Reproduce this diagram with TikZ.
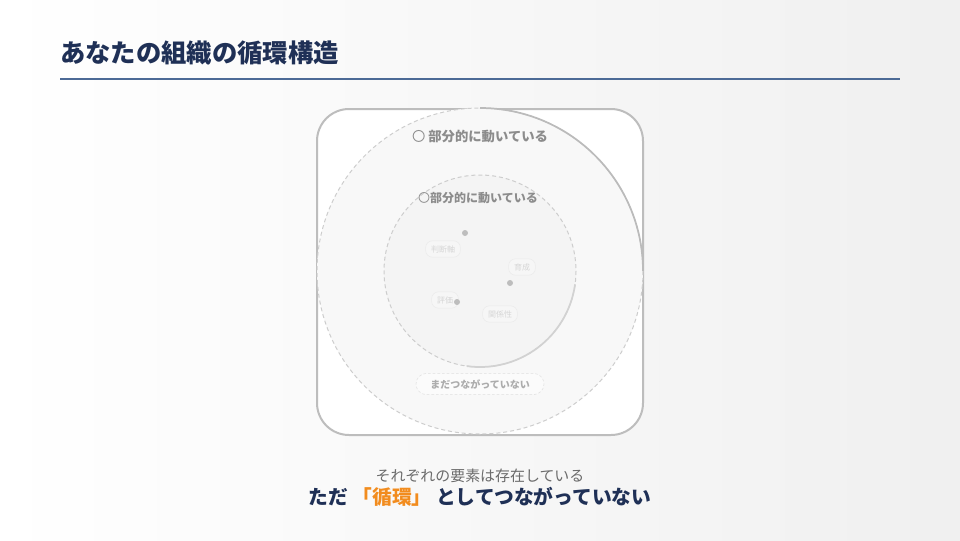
\documentclass[tikz,border=0pt]{standalone}
\usepackage{fontspec}
\setmainfont{Noto Sans CJK JP}
\definecolor{navy}{HTML}{1F3056}
\definecolor{rulec}{HTML}{4C6A96}
\definecolor{framec}{HTML}{BDBDBD}
\definecolor{ofill}{HTML}{F8F8F8}
\definecolor{ifill}{HTML}{F4F4F4}
\definecolor{dashc}{HTML}{CDCDCD}
\definecolor{arcc}{HTML}{BBBBBB}
\definecolor{iarcc}{HTML}{D2D2D2}
\definecolor{labc}{HTML}{8C8C8C}
\definecolor{dotc}{HTML}{BDBDBD}
\definecolor{pilltext}{HTML}{D6D6D6}
\definecolor{pilldraw}{HTML}{EBEBEB}
\definecolor{pillfill}{HTML}{F6F6F6}
\definecolor{subc}{HTML}{6B6B6B}
\definecolor{orangec}{HTML}{F28C1E}
\tikzset{
  dotst/.style={circle, fill=dotc, inner sep=0pt, minimum size=4.5pt},
  pill/.style={rounded corners=5pt, draw=pilldraw, fill=pillfill, text=pilltext,
    font=\fontsize{6}{6}\selectfont, inner xsep=4pt, minimum height=10.5pt},
  ringlabel/.style={text=labc, font=\bfseries},
}
\begin{document}
\begin{tikzpicture}[x=0.75pt,y=-0.75pt]
\useasboundingbox (0,0) rectangle (960,540);
\shade[left color=white, middle color=white, right color=gray!12] (0,0) rectangle (960,540);
% title
\node[anchor=west, text=navy, font=\fontsize{19}{19}\selectfont\bfseries, inner sep=0pt] (title) at (60,53) {あなたの組織の循環構造};
\draw[rulec, line width=0.9pt] (60,79) -- (900,79);
% frame
\draw[framec, fill=white, line width=1.5pt, rounded corners=24pt] (317,109) rectangle (643,435);
% outer circle
\coordinate (co) at (480,271);
\fill[ofill] (co) circle[radius=163];
\draw[dashc, line width=0.75pt, dash pattern=on 3pt off 2.2pt] (co) circle[radius=163];
\draw[arcc, line width=1.3pt] (co) ++(-90:163) arc[start angle=-90, end angle=0, radius=163];
% inner circle
\coordinate (ci) at (480,271);
\fill[ifill] (ci) circle[radius=96];
\draw[dashc, line width=0.75pt, dash pattern=on 3pt off 2.2pt] (ci) circle[radius=96];
\draw[iarcc, line width=1.3pt] (ci) ++(8:96) arc[start angle=8, end angle=98, radius=96];
% ring labels
\node[ringlabel, font=\fontsize{10}{10}\selectfont\bfseries] (l1) at (480,136) {{\mdseries 〇} 部分的に動いている};
\node[ringlabel, font=\fontsize{9}{9}\selectfont\bfseries] (l2) at (478,198) {{\mdseries 〇}部分的に動いている};
% pills
\node[pill] (p1) at (443,249) {判断軸};
\node[pill] (p2) at (522,267) {育成};
\node[pill] (p3) at (445,300) {評価};
\node[pill] (p4) at (500,314) {関係性};
% dots
\node[dotst] (d1) at (465,233) {};
\node[dotst] (d2) at (510,283) {};
\node[dotst] (d3) at (457,302) {};
% bottom pill
\node[rounded corners=8pt, draw=pilldraw!90!gray, dash pattern=on 2pt off 1.5pt, fill=ofill!60!white, text=gray!65,
  font=\fontsize{7.5}{7.5}\selectfont\bfseries, minimum width=96pt, minimum height=16pt] (p5) at (480,384) {まだつながっていない};
% bottom texts
\node[text=subc, font=\fontsize{11.2}{11.2}\selectfont] (s1) at (480,476) {それぞれの要素は存在している};
\node[text=navy, font=\fontsize{14.8}{14.8}\selectfont\bfseries] (s2) at (480,497) {ただ \textcolor{orangec}{「循環」} としてつながっていない};
\end{tikzpicture}
\end{document}
